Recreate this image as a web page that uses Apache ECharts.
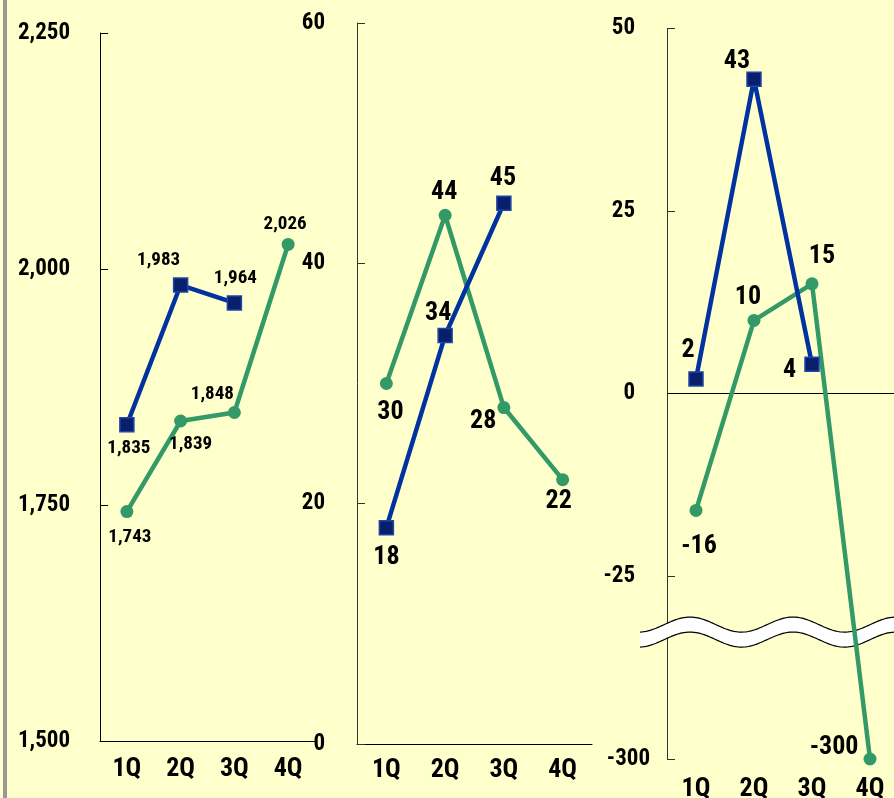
<!DOCTYPE html>
<html>
<head>
<meta charset="utf-8">
<script src="https://cdn.jsdelivr.net/npm/echarts@6.0.0/dist/echarts.min.js"></script>
<style>
html,body{margin:0;padding:0;background:#FFFFCC;}
#c{width:894px;height:798px;}
</style>
</head>
<body>
<div id="c"></div>
<script>
// ---- data ----
const quarters = ['1Q', '2Q', '3Q', '4Q'];
const p1Blue  = [1835, 1983, 1964, null];
const p1Green = [1743, 1839, 1848, 2026];
const p2Blue  = [18, 34, 45, null];
const p2Green = [30, 44, 28, 22];
const p3Blue  = [2, 43, 4, null];
const p3Green = [-16, 10, 15, -300];
const p1Ticks = [1500, 1750, 2000, 2250];
const p2Ticks = [0, 20, 40, 60];
const p3Ticks = [-300, -25, 0, 25, 50];

(function () {
// ---- styles ----
const FONT = '"Liberation Sans Narrow", "Arial Narrow", "Noto Sans Condensed", "Roboto Condensed", "DejaVu Sans Condensed", sans-serif';
const BLUE_LINE = '#0033A0';
const BLUE_FILL = '#0A1F6B';
const GREEN = '#339966';

const p1BlueLbl  = [{position:'bottom', offset:[2,0]}, {position:'top', offset:[-22,-2]}, {position:'top', offset:[1,-1]}, {}];
const p1GreenLbl = [{position:'bottom', offset:[3,4]}, {position:'bottom', offset:[10,1]}, {position:'top', offset:[-22,4]}, {position:'top', offset:[-3,2]}];
const p2BlueLbl  = [{position:'bottom', offset:[0,3]}, {position:'top', offset:[-7,5]}, {position:'top', offset:[-1,2]}, {}];
const p2GreenLbl = [{position:'bottom', offset:[4,3]}, {position:'top', offset:[-1,3]}, {position:'left', offset:[5,14]}, {position:'bottom', offset:[-4,-4]}];
const p3BlueLbl  = [{position:'top', offset:[-8,-2]}, {position:'top', offset:[-17,9]}, {position:'left', offset:[-2,6]}, {}];
const p3GreenLbl = [{position:'bottom', offset:[3,11]}, {position:'top', offset:[-6,3]}, {position:'top', offset:[10,-2]}, {position:'left', offset:[1,-12]}];

function mk(vals, lbls, size) {
  return vals.map((v, i) => ({
    value: v,
    label: Object.assign({show: v !== null, fontSize: size, fontFamily: FONT, fontWeight: 'bold', color: '#000', distance: 6}, lbls[i])
  }));
}
function fmtThousands(v) { return Number(v).toLocaleString('en-US'); }

function blueSeries(xi, data) {
  return {
    type: 'line', xAxisIndex: xi, yAxisIndex: xi, data: data, z: 4,
    symbol: 'rect', symbolSize: 14,
    lineStyle: {color: BLUE_LINE, width: 4.5},
    itemStyle: {color: BLUE_FILL, borderColor: '#1F45A8', borderWidth: 1.5},
    label: {formatter: p => fmtThousands(p.value)},
    emphasis: {disabled: true}, animation: false
  };
}
function greenSeries(xi, data) {
  return {
    type: 'line', xAxisIndex: xi, yAxisIndex: xi, data: data, z: 3,
    symbol: 'circle', symbolSize: 13,
    lineStyle: {color: GREEN, width: 4.5},
    itemStyle: {color: GREEN},
    label: {formatter: p => fmtThousands(p.value)},
    emphasis: {disabled: true}, animation: false
  };
}

const axisLblStyle = {fontSize: 23, fontFamily: FONT, fontWeight: 'bold', color: '#000'};

function catAxis(gi, margin, showLine) {
  return {
    type: 'category', gridIndex: gi, data: quarters,
    axisLine: {show: showLine, onZero: false, lineStyle: {color: '#000', width: 1}},
    axisTick: {show: false},
    axisLabel: {margin: margin, fontSize: 26, fontFamily: FONT, fontWeight: 'bold', color: '#000'},
    splitLine: {show: false}
  };
}

const chart = echarts.init(document.getElementById('c'), null, {renderer: 'canvas'});

const option = {
  backgroundColor: '#FFFFCC',
  animation: false,
  grid: [
    {left: 100, top: 33, width: 215, height: 708, outerBoundsMode: 'none', containLabel: false},
    {left: 357, top: 23, width: 235, height: 721, outerBoundsMode: 'none', containLabel: false},
    {left: 667, top: 28, width: 232, height: 731, outerBoundsMode: 'none', containLabel: false}
  ],
  xAxis: [catAxis(0, 15, true), catAxis(1, 13, true), catAxis(2, 17, false)],
  yAxis: [
    {
      type: 'value', gridIndex: 0, min: p1Ticks[0], max: p1Ticks[p1Ticks.length - 1], interval: 250,
      axisLine: {show: true, lineStyle: {color: '#000'}},
      axisTick: {show: true, inside: true, length: 8, lineStyle: {color: '#000'}},
      axisLabel: Object.assign({margin: 30, formatter: v => fmtThousands(v)}, axisLblStyle),
      splitLine: {show: false}
    },
    {
      type: 'value', gridIndex: 1, min: p2Ticks[0], max: p2Ticks[p2Ticks.length - 1], interval: 20,
      axisLine: {show: true, lineStyle: {color: '#333'}},
      axisTick: {show: true, inside: true, length: 8, lineStyle: {color: '#333'}},
      axisLabel: Object.assign({margin: 32}, axisLblStyle),
      splitLine: {show: false}
    },
    {
      type: 'value', gridIndex: 2, min: p3Ticks[0], max: p3Ticks[p3Ticks.length - 1],
      breaks: [{start: -282.5, end: -32.5, gap: 0}],
      breakArea: {show: false},
      axisLine: {show: true, onZero: false, lineStyle: {color: '#333'}},
      axisTick: {show: true, inside: true, length: 8, lineStyle: {color: '#333'}, customValues: p3Ticks},
      axisLabel: Object.assign({
        margin: 32, customValues: p3Ticks,
        formatter: v => v === -300 ? '{s|' + v + '}' : String(v),
        rich: {s: {fontSize: 23, fontFamily: FONT, fontWeight: 'bold', color: '#000', padding: [0, -15, 0, 0]}}
      }, axisLblStyle),
      splitLine: {show: false}
    }
  ],
  series: [
    greenSeries(0, mk(p1Green, p1GreenLbl, 19)),
    blueSeries(0, mk(p1Blue, p1BlueLbl, 19)),
    greenSeries(1, mk(p2Green, p2GreenLbl, 26)),
    blueSeries(1, mk(p2Blue, p2BlueLbl, 26)),
    Object.assign(greenSeries(2, mk(p3Green, p3GreenLbl, 26)), {
      markLine: {
        silent: true, symbol: 'none', label: {show: false},
        lineStyle: {color: '#000', width: 1, type: 'solid'},
        data: [{yAxis: 0}], z: 1
      }
    }),
    blueSeries(2, mk(p3Blue, p3BlueLbl, 26))
  ]
};
chart.setOption(option);

// ---- decorations: left bar and axis-break wave band ----
const breakY = chart.convertToPixel({yAxisIndex: 2}, -32.5);
const waveLeft = 640, waveRight = 894, period = 103, amp = 7.5, half = 7.5, peakX = 690;
const topEdge = [], botEdge = [];
for (let x = waveLeft; x <= waveRight; x += 2) {
  const y = breakY + 1 - amp * Math.cos(2 * Math.PI * (x - peakX) / period);
  topEdge.push([x, y - half]);
  botEdge.push([x, y + half]);
}
const poly = topEdge.concat(botEdge.slice().reverse());
chart.setOption({
  graphic: [
    {type: 'rect', left: 3, top: 0, shape: {width: 4, height: 798}, style: {fill: '#999999'}, z: 10, silent: true},
    {type: 'polygon', shape: {points: poly}, style: {fill: '#FFFFFF', stroke: null}, z: 1, silent: true},
    {type: 'polyline', shape: {points: topEdge}, style: {stroke: '#000', lineWidth: 1.2, fill: null}, z: 1, silent: true},
    {type: 'polyline', shape: {points: botEdge}, style: {stroke: '#000', lineWidth: 1.2, fill: null}, z: 1, silent: true}
  ]
});
})();
</script>
</body>
</html>
